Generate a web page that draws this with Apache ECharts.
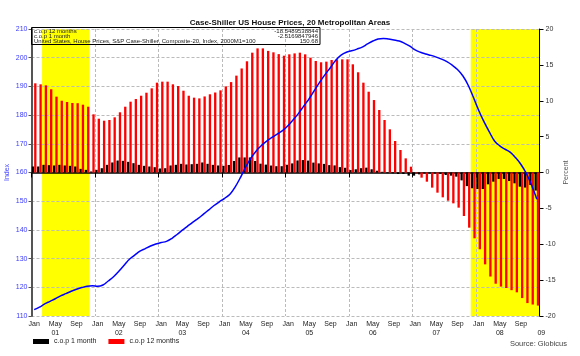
<!DOCTYPE html>
<html>
<head>
<meta charset="utf-8">
<script src="https://cdn.jsdelivr.net/npm/echarts@6/dist/echarts.min.js"></script>
<style>html,body{margin:0;padding:0;background:#fff;}#c{width:580px;height:356px;}</style>
</head>
<body>
<div id="c"></div>
<script>
// ---- data ----
const years = ['2001','2002','2003','2004','2005','2006','2007','2008'];
const months = ['Jan','Feb','Mar','Apr','May','Jun','Jul','Aug','Sep','Oct','Nov','Dec'];
const categories = [];
years.forEach(y => months.forEach(m => categories.push(m + ' ' + y)));

const monthTickLabels = {0: 'Jan', 4: 'May', 8: 'Sep'};
const yearTickLabels = ['01','02','03','04','05','06','07','08'];
const lastYearTickLabel = '09';

// S&P Case-Shiller Composite-20 index (2000M1=100)
const indexValues = [
  112.2,113.1,114.2,115.1,116.0,117.0,117.8,118.6,119.3,119.9,120.35,120.5,
  120.35,120.8,122.2,123.7,125.6,127.7,129.8,131.2,132.6,133.5,134.4,135.1,
  135.6,136.0,137.0,138.4,139.9,141.3,142.7,144.0,145.5,147.0,148.5,149.8,
  151.0,152.4,155.0,158.3,162.0,165.1,167.6,169.5,171.0,172.3,173.5,174.7,
  176.4,178.5,180.7,183.3,185.8,188.7,191.6,194.2,196.6,199.1,200.9,201.9,
  202.4,203.0,203.7,204.8,205.8,206.5,206.7,206.5,206.2,205.8,205.0,204.0,
  202.7,201.9,201.3,200.8,200.2,199.5,198.6,197.4,195.9,193.7,190.5,186.2,
  181.7,177.7,174.2,171.0,169.3,168.1,167.0,165.1,162.8,159.7,155.6,150.68
];
// change over previous 12 months, %
const cop12 = [
  12.43,12.29,12.15,11.6,10.57,10.0,9.83,9.69,9.66,9.45,9.17,8.11,
  7.5,7.22,7.32,7.69,8.39,9.17,9.87,10.24,10.7,11.12,11.73,12.52,
  12.66,12.66,12.29,12.06,11.4,10.7,10.43,10.33,10.6,10.9,11.15,11.45,
  12.0,12.6,13.5,14.5,15.5,16.7,17.3,17.3,16.95,16.75,16.5,16.28,
  16.47,16.6,16.7,16.47,16.0,15.54,15.36,15.45,15.68,15.77,15.77,15.77,
  15.08,13.97,12.52,11.26,10.1,8.71,7.32,6.02,4.39,3.14,1.97,0.81,
  -0.1,-0.72,-1.28,-2.11,-2.81,-3.46,-3.93,-4.3,-4.9,-6.06,-7.69,-9.17,
  -10.7,-12.8,-14.5,-15.5,-15.9,-16.1,-16.4,-16.7,-17.5,-18.2,-18.4,-18.5489538844
];
// change over previous month, %
const cop1 = [
  0.84,0.84,1.07,1.02,0.98,1.07,0.98,0.93,0.84,0.51,0.37,0.14,
  0.37,0.6,1.07,1.4,1.67,1.63,1.49,1.3,1.07,0.93,0.84,0.74,
  0.56,0.6,0.98,1.07,1.21,1.12,1.16,1.21,1.4,1.21,1.07,0.98,
  0.93,1.05,1.6,2.1,2.1,2.1,1.6,1.23,1.1,0.97,0.88,0.88,
  1.08,1.27,1.68,1.73,1.66,1.38,1.27,1.2,1.03,0.99,0.75,0.66,
  0.34,0.45,0.6,0.68,0.45,0.25,0.1,-0.1,-0.12,-0.21,-0.21,-0.44,
  -0.44,-0.26,-0.12,-0.12,-0.12,-0.21,-0.35,-0.44,-0.58,-1.1,-1.9,-2.2,
  -2.3,-2.3,-1.65,-1.28,-0.9,-0.9,-1.19,-1.51,-1.98,-2.1,-1.74,-2.5169847946
];
// recession periods (first month, last month)
const recessions = [['Mar 2001','Nov 2001'], ['Dec 2007','Dec 2008']];

const boxLabels = ['c.o.p 12 months', 'c.o.p 1 month',
  'United States, House Prices, S&P Case-Shiller, Composite-20, Index, 2000M1=100'];
const boxValues = ['-18.5489538844', '-2.5169847946', '150.68'];

// ---- chart ----
const FONT = 'Liberation Sans';
const chart = echarts.init(document.getElementById('c'), null, {renderer: 'canvas'});

const areaData = recessions.map(r => [
  {xAxis: categories.indexOf(r[0])},
  {xAxis: categories.indexOf(r[1]) + 1}
]);

const gl = 31.5, gr = 539.5, gt = 29, gb = 316;

chart.setOption({
  animation: false,
  textStyle: {fontFamily: FONT},
  title: {
    text: 'Case-Shiller US House Prices, 20 Metropolitan Areas',
    left: 'center', top: 14,
    textStyle: {fontSize: 8, fontWeight: 'bold', color: '#111', fontFamily: FONT}
  },
  legend: {
    data: ['c.o.p 1 month', 'c.o.p 12 months'],
    left: 28, top: 333,
    icon: 'rect', itemWidth: 16, itemHeight: 5, itemGap: 12,
    textStyle: {fontSize: 7, color: '#222', fontFamily: FONT}
  },
  grid: {left: gl, right: 580 - gr, top: gt, bottom: 356 - gb, containLabel: false, outerBoundsMode: 'none'},
  xAxis: [{
    type: 'category',
    data: categories,
    boundaryGap: true,
    axisLine: {lineStyle: {color: '#000', width: 1.5}},
    axisTick: {show: true, length: 5, interval: (i) => i % 12 === 0, lineStyle: {color: '#000'}},
    splitLine: {show: true, interval: (i) => i % 12 === 0, lineStyle: {color: '#bbbbbb', type: [3, 2], width: 1}},
    axisLabel: {
      interval: (i) => (i % 4 === 0) || i === categories.length - 1,
      margin: 4,
      fontSize: 7, color: '#222', lineHeight: 9, fontFamily: FONT,
      formatter: (v, i) => {
        if (i === categories.length - 1) return ' \n{s|' + lastYearTickLabel + '}';
        const m = i % 12;
        if (m === 4) return monthTickLabels[m] + '\n' + yearTickLabels[Math.floor(i / 12)];
        return monthTickLabels[m] || '';
      },
      rich: {s: {fontSize: 7, color: '#222', padding: [0, 0, 0, 9], fontFamily: FONT}}
    }
  }, {
    type: 'value', min: 0, max: categories.length, show: false
  }],
  yAxis: [{
    type: 'value', min: 110, max: 210, interval: 10,
    position: 'left',
    name: 'Index', nameLocation: 'middle', nameGap: 21, nameRotate: 90, nameMoveOverlap: false,
    nameTextStyle: {color: '#4040ff', fontSize: 7, fontFamily: FONT},
    axisLine: {show: true, lineStyle: {color: '#555', width: 2}},
    axisTick: {show: true, length: 3, lineStyle: {color: '#555'}},
    axisLabel: {color: '#3a3aff', fontSize: 7, margin: 4, fontFamily: FONT},
    splitLine: {show: true, lineStyle: {color: '#bbbbbb', type: [3, 2], width: 1}}
  }, {
    type: 'value', min: -20, max: 20, interval: 5,
    position: 'right',
    name: 'Percent', nameLocation: 'middle', nameGap: 23, nameRotate: 90, nameMoveOverlap: false,
    nameTextStyle: {color: '#555', fontSize: 7, fontFamily: FONT},
    axisLine: {show: true, lineStyle: {color: '#000', width: 1}},
    axisTick: {show: true, length: 4, lineStyle: {color: '#000'}},
    axisLabel: {color: '#333', fontSize: 7, margin: 6, fontFamily: FONT},
    splitLine: {show: false}
  }],
  series: [{
    name: 'recession', type: 'line', xAxisIndex: 1, yAxisIndex: 0,
    data: [[0, 160], [categories.length, 160]],
    symbol: 'none', silent: true, lineStyle: {opacity: 0}, z: 1,
    markArea: {silent: true, z: -1, itemStyle: {color: '#ffff00'}, data: areaData}
  }, {
    name: 'c.o.p 1 month', type: 'bar', yAxisIndex: 1,
    data: cop1, itemStyle: {color: '#000000'},
    barGap: '0%', barCategoryGap: '12%', z: 2
  }, {
    name: 'c.o.p 12 months', type: 'bar', yAxisIndex: 1,
    data: cop12, itemStyle: {color: '#ff0000'},
    barGap: '0%', barCategoryGap: '12%', z: 2
  }, {
    name: 'Index', type: 'line', yAxisIndex: 0,
    data: indexValues, smooth: 0.4, symbol: 'none',
    lineStyle: {color: '#0000ff', width: 1.5}, z: 4
  }],
  graphic: [
    {type: 'rect', shape: {x: gl, y: 27.5, width: 320 - gl, height: 17}, style: {fill: 'none', stroke: '#000', lineWidth: 1}, z: 10},
    {type: 'text', left: 34, top: 28.5, style: {text: boxLabels[0], fontSize: 6, fill: '#222', fontFamily: FONT}, z: 10},
    {type: 'text', left: 34, top: 33.5, style: {text: boxLabels[1], fontSize: 6, fill: '#222', fontFamily: FONT}, z: 10},
    {type: 'text', left: 34, top: 38.5, style: {text: boxLabels[2], fontSize: 6, fill: '#222', fontFamily: FONT}, z: 10},
    {type: 'text', right: 580 - 318, top: 28.5, style: {text: boxValues[0], fontSize: 6, fill: '#222', fontFamily: FONT}, z: 10},
    {type: 'text', right: 580 - 318, top: 33.5, style: {text: boxValues[1], fontSize: 6, fill: '#222', fontFamily: FONT}, z: 10},
    {type: 'text', right: 580 - 318, top: 38.5, style: {text: boxValues[2], fontSize: 6, fill: '#222', fontFamily: FONT}, z: 10},
    {type: 'text', right: 13, top: 340, style: {text: 'Source: Globicus', fontSize: 7.5, fill: '#444', fontFamily: FONT}, z: 10}
  ]
});
</script>
</body>
</html>
